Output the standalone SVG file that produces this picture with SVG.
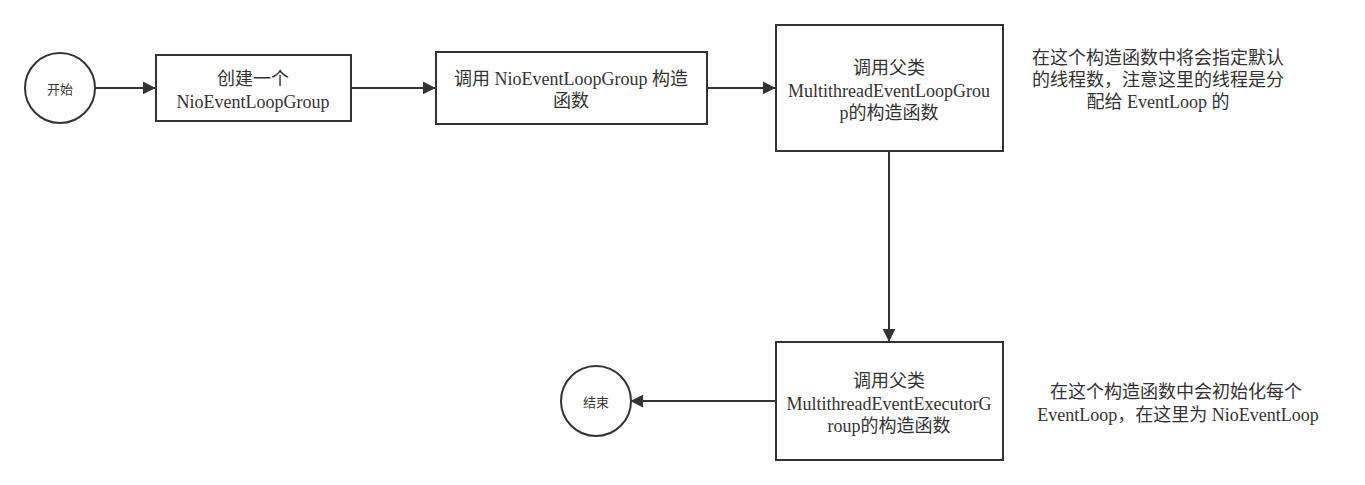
<svg xmlns="http://www.w3.org/2000/svg" width="1365" height="485" viewBox="0 0 1365 485">
<style>
.n{fill:#fff;stroke:#333;stroke-width:2}
.t{font-family:"Liberation Serif","Noto Sans CJK SC",serif;font-size:18px;fill:#333;text-anchor:middle}
.s{font-family:"Liberation Sans","Noto Sans CJK SC",sans-serif;font-size:13px;fill:#333;text-anchor:middle}
.c{fill:none;stroke:#333;stroke-width:2}
</style>
<defs>
<marker id="a" viewBox="0 0 10 10" refX="9" refY="5" markerWidth="8" markerHeight="8" markerUnits="userSpaceOnUse" orient="auto" overflow="visible">
<path d="M0,0 L10,5 L0,10 Z" fill="#333" transform="scale(1.6) translate(-3.8,-1.9)"/>
</marker>
</defs>
<rect width="1365" height="485" fill="#fff"/>
<g id="connectors">
<line class="c" x1="95" y1="88" x2="155" y2="88" marker-end="url(#a)"/>
<line class="c" x1="351" y1="88" x2="435" y2="88" marker-end="url(#a)"/>
<line class="c" x1="707" y1="88" x2="775" y2="88" marker-end="url(#a)"/>
<line class="c" x1="889" y1="151" x2="889" y2="341" marker-end="url(#a)"/>
<line class="c" x1="776" y1="401" x2="631" y2="401" marker-end="url(#a)"/>
</g>
<g id="start"><circle class="n" cx="60" cy="88" r="35"/><text class="s" x="60" y="94">开始</text></g>
<g id="n1"><rect class="n" x="156" y="55" width="195" height="66"/>
<text class="t" x="253" y="85">创建一个</text><text class="t" x="253" y="108">NioEventLoopGroup</text></g>
<g id="n2"><rect class="n" x="436" y="52" width="271" height="72"/>
<text class="t" x="571" y="85">调用 NioEventLoopGroup 构造</text><text class="t" x="571" y="107">函数</text></g>
<g id="n3"><rect class="n" x="776" y="25" width="227" height="126"/>
<text class="t" x="889" y="74">调用父类</text><text class="t" x="889" y="97">MultithreadEventLoopGrou</text><text class="t" x="889" y="119">p的构造函数</text></g>
<g id="note1"><text class="t" x="1158" y="64">在这个构造函数中将会指定默认</text><text class="t" x="1158" y="86">的线程数，注意这里的线程是分</text><text class="t" x="1158" y="108">配给 EventLoop 的</text></g>
<g id="n4"><rect class="n" x="776" y="342" width="227" height="118"/>
<text class="t" x="889" y="387">调用父类</text><text class="t" x="889" y="410">MultithreadEventExecutorG</text><text class="t" x="889" y="432">roup的构造函数</text></g>
<g id="end"><circle class="n" cx="596" cy="401" r="35"/><text class="s" x="596" y="407">结束</text></g>
<g id="note2"><text class="t" x="1176" y="398">在这个构造函数中会初始化每个</text><text class="t" x="1178" y="421">EventLoop，在这里为 NioEventLoop</text></g>
</svg>
